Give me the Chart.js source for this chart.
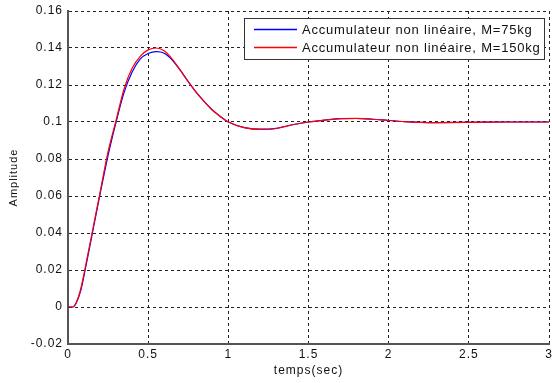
<!DOCTYPE html>
<html>
<head>
<meta charset="utf-8">
<script src="https://cdn.jsdelivr.net/npm/chart.js@4/dist/chart.umd.min.js"></script>
<style>
  html, body { margin: 0; padding: 0; background: #fff; }
  #wrap { width: 552px; height: 383px; }
</style>
</head>
<body>
<div id="wrap"><canvas id="reponse" width="552" height="383"></canvas></div>
<script>
// temps (s) et amplitudes
const temps = [0, 0.03, 0.05, 0.08, 0.1, 0.15, 0.2, 0.25, 0.3, 0.35, 0.4, 0.45, 0.5, 0.55, 0.6, 0.65, 0.7, 0.75, 0.8, 0.85, 0.9, 0.95, 1.0, 1.1, 1.2, 1.3, 1.4, 1.5, 1.6, 1.7, 1.8, 1.9, 2.0, 2.1, 2.2, 2.3, 2.5, 2.75, 3.0];
const ampM75 = [0, 0, 0.002, 0.009, 0.017, 0.039, 0.061, 0.082, 0.1, 0.116, 0.127, 0.134, 0.137, 0.138, 0.1372, 0.1335, 0.128, 0.1218, 0.116, 0.111, 0.1065, 0.103, 0.1, 0.097, 0.0961, 0.0966, 0.0985, 0.1, 0.101, 0.1018, 0.1019, 0.1015, 0.1008, 0.1002, 0.0998, 0.0997, 0.0998, 0.1, 0.1];
const ampM150 = [0, 0, 0.002, 0.01, 0.018, 0.04, 0.062, 0.084, 0.101, 0.118, 0.129, 0.1355, 0.139, 0.14, 0.1385, 0.134, 0.128, 0.1218, 0.116, 0.111, 0.1065, 0.103, 0.1, 0.097, 0.096, 0.0965, 0.0985, 0.1, 0.101, 0.1018, 0.102, 0.1015, 0.1008, 0.1002, 0.0998, 0.0997, 0.0998, 0.1, 0.1];
const xTicks = [0, 0.5, 1, 1.5, 2, 2.5, 3];
const yTicks = [-0.02, 0, 0.02, 0.04, 0.06, 0.08, 0.1, 0.12, 0.14, 0.16];
const series = [
  { label: 'Accumulateur non linéaire, M=75kg', values: ampM75, color: '#0000ff' },
  { label: 'Accumulateur non linéaire, M=150kg', values: ampM150, color: '#ff0000' }
];

const police = 'Arial, "Liberation Sans", sans-serif';

// texte un peu espace comme l'export matlab
const espacement = {
  id: 'espacement',
  beforeDraw(chart) { chart.ctx.letterSpacing = '1px'; }
};

// legende dans le coin haut droit, facon matlab
const legendeMatlab = {
  id: 'legendeMatlab',
  afterDraw(chart) {
    const ctx = chart.ctx;
    const x0 = 244, y0 = 18, w = 300, h = 41;
    ctx.save();
    ctx.setLineDash([]);
    ctx.fillStyle = '#fff';
    ctx.fillRect(x0, y0, w, h);
    ctx.strokeStyle = '#333';
    ctx.lineWidth = 1;
    ctx.strokeRect(x0 + 0.5, y0 + 0.5, w, h);
    ctx.font = '13px ' + police;
    ctx.letterSpacing = '0.8px';
    ctx.textBaseline = 'middle';
    series.forEach((s, i) => {
      const y = y0 + 11.5 + i * 18;
      ctx.strokeStyle = s.color;
      ctx.lineWidth = 1.3;
      ctx.beginPath();
      ctx.moveTo(254, y);
      ctx.lineTo(297, y);
      ctx.stroke();
      ctx.fillStyle = '#111';
      ctx.fillText(s.label, 302, y + 0.5);
    });
    ctx.restore();
  }
};

new Chart(document.getElementById('reponse'), {
  type: 'line',
  data: {
    datasets: series.map((s, i) => ({
      label: s.label,
      data: temps.map((t, k) => ({ x: t, y: s.values[k] })),
      borderColor: s.color,
      borderWidth: 1.2,
      pointRadius: 0,
      cubicInterpolationMode: 'monotone',
      fill: false,
      order: 2 - i
    }))
  },
  options: {
    responsive: false,
    animation: false,
    layout: { padding: { top: 11, right: 3, left: 0, bottom: 0 } },
    plugins: { legend: { display: false }, tooltip: { enabled: false } },
    scales: {
      x: {
        type: 'linear',
        min: 0, max: 3,
        afterFit: s => { s.height = 39; s.paddingLeft = 0; s.paddingRight = 0; },
        afterBuildTicks: s => { s.ticks = xTicks.map(v => ({ value: v })); },
        ticks: { color: '#111', font: { family: police, size: 12 }, padding: 3, maxRotation: 0,
          callback: v => String(v) },
        grid: { color: '#222', lineWidth: 1, drawTicks: false },
        border: { display: true, color: '#555', width: 2, dash: [3, 3] },
        title: { display: true, text: 'temps(sec)', color: '#111', font: { family: police, size: 12 }, padding: { top: 0, bottom: 5 } }
      },
      y: {
        min: -0.02, max: 0.16,
        afterFit: s => { s.width = 68; s.paddingTop = 0; s.paddingBottom = 0; },
        afterBuildTicks: s => { s.ticks = yTicks.map(v => ({ value: v })); },
        ticks: { color: '#111', font: { family: police, size: 12 }, padding: 5,
          callback: v => String(parseFloat(v.toFixed(2))) },
        grid: { color: '#222', lineWidth: 1, drawTicks: false },
        border: { display: true, color: '#555', width: 2, dash: [3, 3] },
        title: { display: true, text: 'Amplitude', color: '#111', font: { family: police, size: 11 }, padding: { top: 7, bottom: 0 } }
      }
    }
  },
  plugins: [espacement, legendeMatlab]
});
</script>
</body>
</html>
